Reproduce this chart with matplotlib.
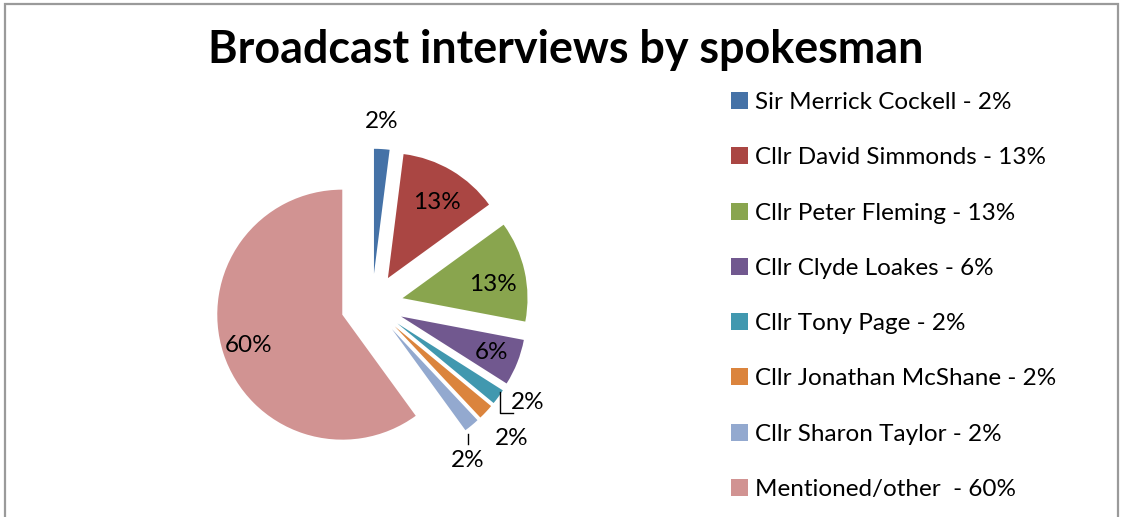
import numpy as np
import matplotlib

matplotlib.use("Agg")
import matplotlib.pyplot as plt
from matplotlib.patches import Rectangle

# data
names = ["Sir Merrick Cockell", "Cllr David Simmonds", "Cllr Peter Fleming",
         "Cllr Clyde Loakes", "Cllr Tony Page", "Cllr Jonathan McShane",
         "Cllr Sharon Taylor", "Mentioned/other "]
shares = [2, 13, 13, 6, 2, 2, 2, 60]

colors = ["#4572A7", "#AA4643", "#89A54E", "#71588F", "#4198AF",
          "#DB843D", "#93A9CF", "#D19392"]
# % label placement: radius (fraction of pie radius, from exploded centre)
# and angular nudge in degrees from the wedge's mid-angle
label_r = [1.22, 0.72, 0.73, 0.78, 1.22, 1.30, 1.21, 0.79]
label_da = [0.5, -1.5, -3.0, 0.0, 4.0, -0.5, -8.0, 0.0]

FONT = "Lato"
plt.rcParams["font.family"] = [FONT, "DejaVu Sans"]

W, H = 1124, 517
fig = plt.figure(figsize=(W / 100, H / 100), dpi=100)

# outer grey frame (bottom edge runs off the canvas)
fig.patches.append(Rectangle((5 / W, -0.05), (1118 - 5) / W, (H - 4) / H + 0.05,
                             transform=fig.transFigure, fill=False,
                             edgecolor="#9a9a9a", linewidth=1.6))

fig.text(566 / W, 1 - 50 / H, "Broadcast interviews by spokesman",
         ha="center", va="center", fontsize=32.3, fontweight="bold")

# pie axes: centre at (372, 305) px, radius 125 px
cx, cy, half = 372, 305, 200
ax = fig.add_axes([(cx - half) / W, (H - cy - half) / H, 2 * half / W, 2 * half / H])

explode = [0.25] * len(shares)
wedges, _ = ax.pie(shares, colors=colors, startangle=90, counterclock=False,
                   explode=explode, radius=1.0,
                   wedgeprops=dict(linewidth=0))
ax.set_xlim(-half / 125, half / 125)
ax.set_ylim(-half / 125, half / 125)
ax.axis("off")

total = sum(shares)
for i, (w, v) in enumerate(zip(wedges, shares)):
    mid = np.deg2rad((w.theta1 + w.theta2) / 2)
    ang = mid + np.deg2rad(label_da[i])
    rr = explode[i] + label_r[i]
    pos = rr * np.array([np.cos(ang), np.sin(ang)])
    ax.text(pos[0], pos[1], f"{v / total * 100:.0f}%", ha="center", va="center",
            fontsize=17.5)
    if i == 4:  # elbow leader line beside the label
        ax.plot([pos[0] - 0.22, pos[0] - 0.22, pos[0] - 0.12],
                [pos[1] + 0.08, pos[1] - 0.085, pos[1] - 0.085],
                color="black", lw=1)
    if i == 6:  # short tick above the label
        ax.plot([pos[0], pos[0]], [pos[1] + 0.215, pos[1] + 0.135],
                color="black", lw=1)

labels = [f"{n} - {v}%" for n, v in zip(names, shares)]
fig.legend(wedges, labels, loc="upper left", bbox_to_anchor=(731 / W, 1 - 92 / H),
           frameon=False, fontsize=17.5, handlelength=0.7, handleheight=0.7,
           handletextpad=0.29, labelspacing=1.41, borderpad=0, borderaxespad=0)

fig.savefig("out.png", dpi=100)
